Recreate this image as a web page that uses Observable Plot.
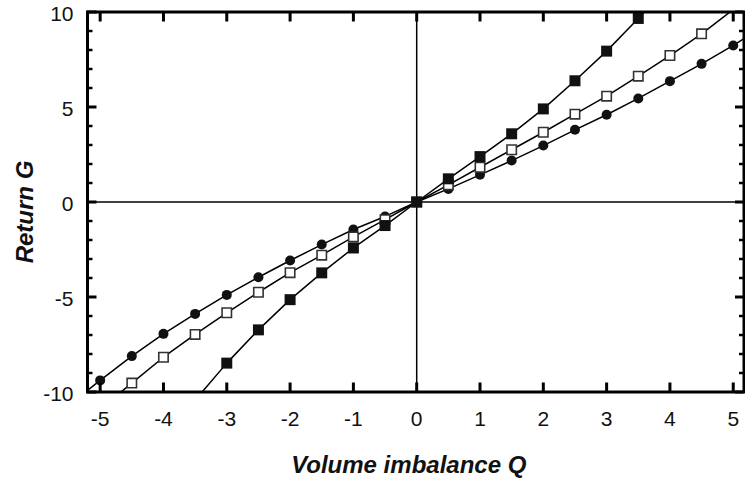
<!DOCTYPE html>
<html>
<head>
<meta charset="utf-8">
<script src="https://cdn.jsdelivr.net/npm/d3@7"></script>
<script src="https://cdn.jsdelivr.net/npm/@observablehq/plot@0.6"></script>
<style>
  html, body { margin: 0; padding: 0; background: #fff; }
  #chart svg { display: block; background: #fff; font-family: 'Liberation Sans', Arial, Helvetica, sans-serif; }
</style>
</head>
<body>
<div id="chart"></div>
<script>
// Volume imbalance Q (x positions of the samples)
const Q = [-5.5, -5, -4.5, -4, -3.5, -3, -2.5, -2, -1.5, -1, -0.5, 0, 0.5, 1, 1.5, 2, 2.5, 3, 3.5, 4, 4.5, 5, 5.5];
// Return G for the three series (null = not plotted)
const filledSquares = [null, null, null, null, -10.43, -8.48, -6.73, -5.14, -3.73, -2.42, -1.24, 0, 1.22, 2.39, 3.59, 4.9, 6.38, 7.94, 9.66, 11.5, null, null, null];
const openSquares   = [null, -10.9, -9.53, -8.17, -6.97, -5.83, -4.75, -3.72, -2.8, -1.84, -0.93, 0, 0.9, 1.83, 2.75, 3.67, 4.62, 5.57, 6.62, 7.71, 8.85, 10.13, null];
const circles       = [-10.7, -9.39, -8.11, -6.94, -5.89, -4.89, -3.96, -3.08, -2.24, -1.45, -0.76, 0, 0.69, 1.43, 2.18, 2.97, 3.8, 4.59, 5.45, 6.36, 7.27, 8.24, 9.3];

const xTicks = [-5, -4, -3, -2, -1, 0, 1, 2, 3, 4, 5];
const yMajorTicks = [-10, -5, 0, 5, 10];
const yMinorTicks = [-9, -8, -7, -6, -4, -3, -2, -1, 1, 2, 3, 4, 6, 7, 8, 9];
const xLabel = "Volume imbalance Q";
const yLabel = "Return G";

const xDomain = [-5.2, 5.17];
const yDomain = [-10, 10];

const W = 745, H = 484, ML = 87, MR = 1.5, MT = 11.5, MB = 92.5;
const FW = W - ML - MR;

const rows = (vals) => Q.map((q, i) => ({q, g: vals[i]})).filter(d => d.g != null);
const inFrame = (d) => d.q >= xDomain[0] && d.q <= xDomain[1] && d.g >= yDomain[0] && d.g <= yDomain[1];

const sFilled = rows(filledSquares);
const sOpen = rows(openSquares);
const sCircle = rows(circles);

const ink = "#000";
const blank = () => "";

const chart = Plot.plot({
  width: W,
  height: H,
  marginLeft: ML,
  marginRight: MR,
  marginTop: MT,
  marginBottom: MB,
  x: { domain: xDomain },
  y: { domain: yDomain },
  marks: [
    Plot.ruleX([0], { stroke: ink, strokeWidth: 1.5 }),
    Plot.ruleY([0], { stroke: ink, strokeWidth: 1.5 }),

    Plot.line(sCircle, { x: "q", y: "g", stroke: ink, strokeWidth: 1.5, clip: true }),
    Plot.line(sOpen, { x: "q", y: "g", stroke: ink, strokeWidth: 1.5, clip: true }),
    Plot.line(sFilled, { x: "q", y: "g", stroke: ink, strokeWidth: 1.5, clip: true }),

    Plot.dot(sCircle.filter(inFrame), { x: "q", y: "g", symbol: "circle", r: 5, fill: "#111", stroke: "none" }),
    Plot.dot(sOpen.filter(inFrame), { x: "q", y: "g", symbol: "square", r: 5.3, fill: "#fff", stroke: "#333", strokeWidth: 1.6 }),
    Plot.dot(sFilled.filter(inFrame), { x: "q", y: "g", symbol: "square", r: 6.2, fill: "#111", stroke: "none" }),

    // inward tick marks
    Plot.axisX({ ticks: xTicks, anchor: "bottom", tickSize: 9, dy: -9, stroke: ink, strokeWidth: 3, tickFormat: blank, label: null }),
    Plot.axisX({ ticks: xTicks, anchor: "top", tickSize: 9, dy: 9, stroke: ink, strokeWidth: 3, tickFormat: blank, label: null }),
    Plot.ruleY(yMajorTicks, { y: d => d, insetRight: FW - 9.5, stroke: ink, strokeWidth: 3 }),
    Plot.ruleY(yMinorTicks, { y: d => d, insetRight: FW - 5.5, stroke: ink, strokeWidth: 2.5 }),
    Plot.ruleY(yMajorTicks, { y: d => d, insetLeft: FW - 8.5, stroke: ink, strokeWidth: 3 }),
    Plot.ruleY(yMinorTicks, { y: d => d, insetLeft: FW - 4.5, stroke: ink, strokeWidth: 2.5 }),

    Plot.frame({ stroke: ink, strokeWidth: 3 }),

    Plot.axisX({ ticks: xTicks, anchor: "bottom", tickSize: 0, tickPadding: 19, fontSize: 21, fill: "#111", tickFormat: d => String(d), label: null }),
    Plot.axisY({ ticks: yMajorTicks, anchor: "left", tickSize: 0, tickPadding: 14, dy: 2, fontSize: 21, fill: "#111", tickFormat: d => String(d), label: null }),

    Plot.text([xLabel], { frameAnchor: "bottom", lineAnchor: "middle", textAnchor: "middle", dx: -7, dy: 73.5, text: d => d, fontSize: 24, fontWeight: "bold", fontStyle: "italic", fill: "#111" }),
    Plot.text([yLabel], { frameAnchor: "left", lineAnchor: "middle", textAnchor: "middle", dx: -62, dy: 10, rotate: -90, text: d => d, fontSize: 24, fontWeight: "bold", fontStyle: "italic", fill: "#111" })
  ]
});

document.getElementById("chart").appendChild(chart);
</script>
</body>
</html>
